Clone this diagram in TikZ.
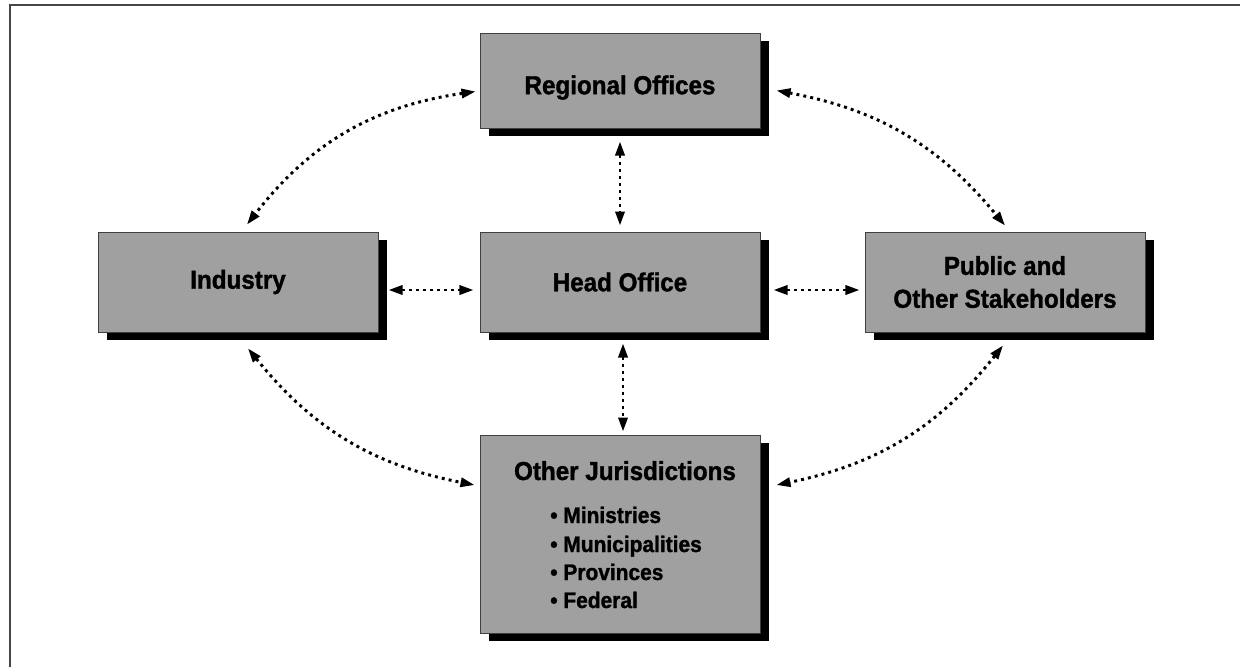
\documentclass[tikz,border=0pt]{standalone}
\usepackage{fontspec}
\setmainfont{Liberation Sans}[FakeStretch=0.93, BoldFeatures={FakeBold=1.3}]
\usetikzlibrary{arrows.meta,shadows}
\definecolor{boxgray}{RGB}{160,160,160}
\definecolor{framegray}{RGB}{70,70,70}
\tikzset{
  box/.style={draw=black!75, line width=0.6pt, fill=boxgray,
    minimum width=7cm, minimum height=2.5cm, inner sep=0pt, align=center,
    font=\fontsize{18.5}{23.4}\selectfont\bfseries,
    drop shadow={shadow xshift=0.225cm, shadow yshift=-0.19cm, fill=black, opacity=1}},
  link/.style={line width=2.1pt, dash pattern=on 2.1pt off 2.9pt,
    {Triangle[length=10pt,width=6.5pt]}-{Triangle[length=10pt,width=6.5pt]}},
  boxtitle/.style={anchor=base, inner sep=0pt, font=\fontsize{18.5}{20}\selectfont\bfseries},
  listitem/.style={anchor=base west, inner sep=0pt, font=\fontsize{16}{18}\selectfont\bfseries},
  frame/.style={draw=framegray, line width=1.2pt}
}
\begin{document}
\begin{tikzpicture}[x=0.025cm, y=-0.025cm]
\useasboundingbox (0,0) rectangle (1240,667);

% page frame (top and left rules)
\draw[frame] (10,667) -- (10,5) -- (1240,5);

% boxes
\node[box, minimum height=2.375cm] (ro) at (620,80.5)
  {\raisebox{-5pt}[\height][\depth]{Regional Offices}};
\node[box] (ind) at (238,282) {Industry};
\node[box] (ho)  at (620,282) {Head Office};
\node[box] (pub) at (1005,282) {Public and\\Other Stakeholders};
\node[box, minimum height=4.95cm] (oj) at (620,534) {};

% contents of the jurisdictions box
\node[boxtitle] (ojtitle) at (625,480) {Other Jurisdictions};
\node[listitem] (ojmin) at (550,523) {• Ministries};
\node[listitem] (ojmun) at (550,552) {• Municipalities};
\node[listitem] (ojpro) at (550,580) {• Provinces};
\node[listitem] (ojfed) at (550,608) {• Federal};

% curved links around the ring
\draw[link] ([shift={(-4,11)}]ro.west) to[bend right=22] ([shift={(9,-7)}]ind.north);
\draw[link] ([shift={(16,10)}]ro.east) to[bend left=20] ([shift={(0,-6)}]pub.north);
\draw[link] ([shift={(10,16)}]ind.south) to[bend right=20] ([shift={(-5,-49)}]oj.west);
\draw[link] ([shift={(-2,13)}]pub.south) to[bend left=20] ([shift={(16,-49)}]oj.east);

% straight links to the head office
\draw[link] ([shift={(0,13)}]ro.south) -- ([shift={(0,-6)}]ho.north);
\draw[link] ([shift={(3,11)}]ho.south) -- ([shift={(3,-3)}]oj.north);
\draw[link] ([shift={(10,8)}]ind.east) -- ([shift={(-6,8)}]ho.west);
\draw[link] ([shift={(13,8)}]ho.east) -- ([shift={(-5,8)}]pub.west);
\end{tikzpicture}
\end{document}
